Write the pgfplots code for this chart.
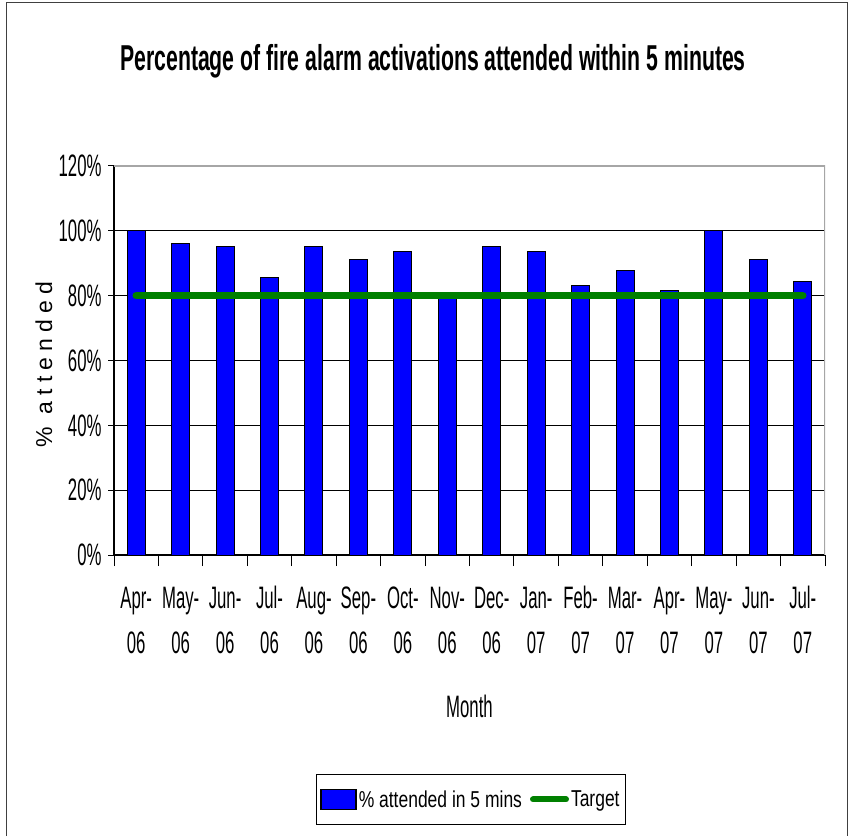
\documentclass[border=0pt]{standalone}
\usepackage{fontspec}
\setmainfont{Liberation Sans}[FakeStretch=0.54]
\newfontfamily\legfont{Liberation Sans}[FakeStretch=0.76]
\newfontfamily\titlefont{Liberation Sans Bold}[FakeStretch=0.59]
\newfontfamily\ylabfont{Liberation Sans}[LetterSpace=27]
\usepackage{pgfplots}
\pgfplotsset{compat=1.18}
\definecolor{barblue}{RGB}{0,0,255}
\definecolor{tgtgreen}{RGB}{0,128,0}

% % attended within 5 minutes, Apr-06 .. Jul-07
\pgfplotstableread{
idx pct
0  100
1  96.2
2  95.2
3  85.5
4  95.2
5  91.3
6  93.6
7  79.0
8  95.2
9  93.6
10 83.0
11 87.9
12 81.6
13 100
14 91.3
15 84.4
}\attended

\newcommand{\mlab}[2]{\strut #1-\\\strut #2}

\begin{document}
\begin{tikzpicture}[x=1pt,y=1pt]
\useasboundingbox (0,0) rectangle (850,836);
\draw[line width=1pt, black!75] (6,0) -- (6,833) -- (847,833) -- (847,0);
\node[font=\titlefont\fontsize{36}{42}\selectfont, anchor=base] at (433,765)
  {Percentage of fire alarm activations attended within 5 minutes};
\begin{axis}[
  at={(114pt,281pt)}, anchor=south west, scale only axis,
  width=711pt, height=389pt,
  xmin=-0.5, xmax=15.5, ymin=0, ymax=120,
  axis lines*=left, axis line style={line width=1.2pt},
  ytick={0,20,...,120},
  yticklabel={\pgfmathprintnumber{\tick}\%},
  /pgf/number format/assume math mode=true,
  ymajorgrids, major grid style={black, line width=0.8pt},
  xtick={0,...,15},
  xticklabels={{\mlab{Apr}{06}},{\mlab{May}{06}},{\mlab{Jun}{06}},{\mlab{Jul}{06}},
               {\mlab{Aug}{06}},{\mlab{Sep}{06}},{\mlab{Oct}{06}},{\mlab{Nov}{06}},
               {\mlab{Dec}{06}},{\mlab{Jan}{07}},{\mlab{Feb}{07}},{\mlab{Mar}{07}},
               {\mlab{Apr}{07}},{\mlab{May}{07}},{\mlab{Jun}{07}},{\mlab{Jul}{07}}},
  minor xtick={-0.5,0.5,...,15.5},
  major x tick style={draw=none},
  minor x tick style={black, line width=1pt},
  y tick style={black, line width=1pt},
  tick align=outside,
  major tick length=6pt, minor tick length=11pt,
  ticklabel style={font=\fontsize{31}{45}\selectfont},
  xticklabel style={align=center, anchor=north, yshift=-12pt},
  yticklabel style={xshift=-3pt},
  xlabel={Month},
  xlabel style={font=\fontsize{31}{36}\selectfont, at={(axis description cs:0.5,-0.4165)}, anchor=base},
  ylabel={\% attended},
  ylabel style={font=\ylabfont\fontsize{23}{26}\selectfont, at={(axis description cs:-0.0985,0.49)}, anchor=center},
  legend style={at={(axis description cs:0.502,-0.6285)}, anchor=center, legend columns=2,
    draw=black, line width=0.8pt, font=\legfont\fontsize{23}{26}\selectfont,
    inner xsep=4pt, inner ysep=14pt,
    /tikz/every even column/.append style={column sep=6pt}},
  legend cell align=left,
]
\addplot[ybar, bar width=18pt, bar shift=0pt, fill=barblue, draw=black, line width=1pt,
  legend image code/.code={\draw[fill=barblue, draw=black, line width=1.5pt] (0pt,-10pt) rectangle (35pt,10pt);}]
  table[x=idx, y=pct] {\attended};
\addplot[tgtgreen, line width=7.5pt, line cap=round,
  legend image code/.code={\draw[tgtgreen, line width=6pt, line cap=round] (3pt,0pt) -- (36pt,0pt);}]
  coordinates {(0,80) (15,80)};
\legend{\% attended in 5 mins, Target}
\draw[gray!70, line width=1.5pt] (rel axis cs:0,1) -- (rel axis cs:1,1) -- (rel axis cs:1,0);
\end{axis}
\end{tikzpicture}
\end{document}
